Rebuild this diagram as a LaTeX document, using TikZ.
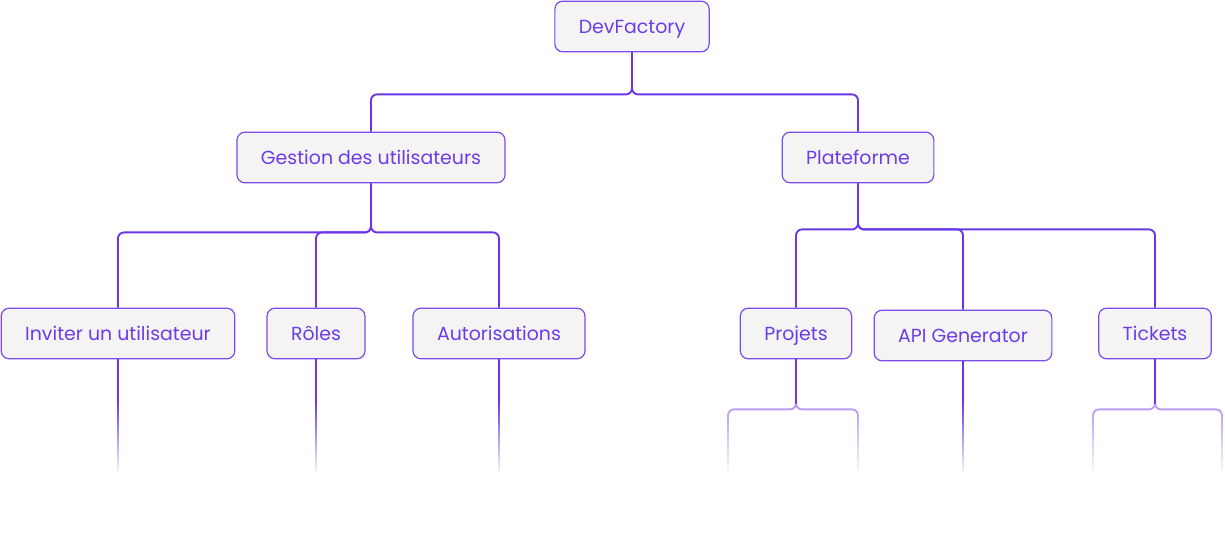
\documentclass[tikz,border=0pt]{standalone}
\usepackage{fontspec}
\setmainfont{Poppins}
\usetikzlibrary{positioning, fadings}
\definecolor{lineviolet}{HTML}{6A35E6}
\definecolor{lightviolet}{HTML}{B190F3}
\definecolor{boxedge}{HTML}{7A4CEA}
\definecolor{boxfill}{HTML}{F4F4F5}
\definecolor{textviolet}{HTML}{6C3CE8}
\tikzstyle{box} = [rectangle, rounded corners=6pt, minimum height=38pt, inner xsep=18pt, text height=10pt, text depth=0pt, text centered, draw=boxedge, fill=boxfill, text=textviolet, font=\fontsize{14.2}{17}\selectfont, line width=0.9pt]
\tikzstyle{link} = [draw=lineviolet, line width=1.4pt, rounded corners=4.5pt]
\tikzstyle{sublink} = [draw=lightviolet, line width=1.4pt, rounded corners=4.5pt]
\tikzfading[name=leaffade, top color=transparent!100, bottom color=transparent!0]

\begin{document}
\begin{tikzpicture}[x=0.75pt, y=-0.75pt]
        \useasboundingbox (0,0) rectangle (1225,534);

        % Nodes
        \node (dev) [box] at (632,26.5) {DevFactory};
        \node (gest) [box] at (371,157.5) {Gestion des utilisateurs};
        \node (plat) [box] at (858,157.5) {Plateforme};
        \node (inv) [box] at (118,333.5) {Inviter un utilisateur};
        \node (roles) [box] at (316,333.5) {Rôles};
        \node (auth) [box] at (499,333.5) {Autorisations};
        \node (proj) [box] at (796,333.5) {Projets};
        \node (api) [box] at (963,335.5) {API Generator};
        \node (tick) [box] at (1155,333.5) {Tickets};

        % Links
        \draw [link] (dev.south) -- ++(0,42) -| (gest.north);
        \draw [link] (dev.south) -- ++(0,42) -| (plat.north);
        \draw [link] (gest.south) -- ++(0,49) -| (inv.north);
        \draw [link] (gest.south) -- ++(0,49) -| (roles.north);
        \draw [link] (gest.south) -- ++(0,49) -| (auth.north);
        \draw [link] (plat.south) -- ++(0,46) -| (proj.north);
        \draw [link] (plat.south) -- ++(0,46) -| (api.north);
        \draw [link] (plat.south) -- ++(0,46) -| (tick.north);

        % Leaves
        \draw [link] (inv.south) -- ++(0,113);
        \draw [link] (roles.south) -- ++(0,113);
        \draw [link] (auth.south) -- ++(0,113);
        \draw [link] (api.south) -- ++(0,111);
        \draw [sublink] (proj.south) -- ++(0,50) -| ++(-68,63);
        \draw [sublink] (proj.south) -- ++(0,50) -| ++(62,63);
        \draw [link] (proj.south) -- ++(0,45);
        \draw [sublink] (tick.south) -- ++(0,50) -| ++(-62,63);
        \draw [sublink] (tick.south) -- ++(0,50) -| ++(67,63);
        \draw [link] (tick.south) -- ++(0,45);

        % Fade
        \fill [white, path fading=leaffade] (0,400) rectangle (1225,476);

    \end{tikzpicture}
\end{document}
